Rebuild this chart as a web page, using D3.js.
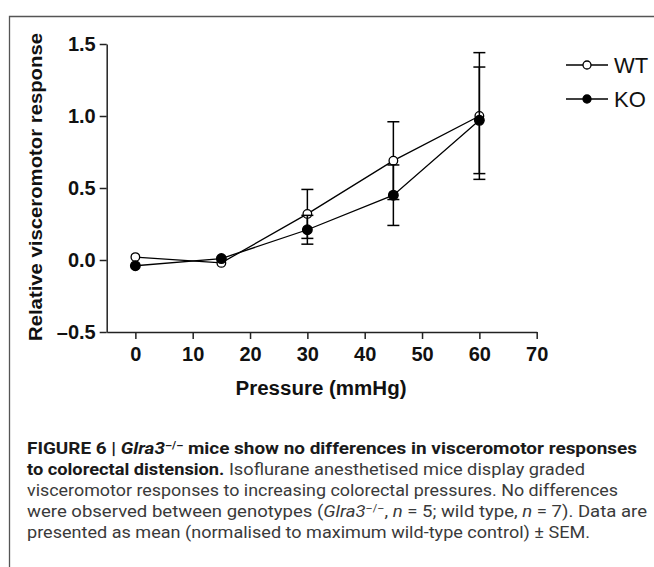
<!DOCTYPE html>
<html>
<head>
<meta charset="utf-8">
<script src="https://cdn.jsdelivr.net/npm/d3@7"></script>
<style>
  body { margin: 0; background: #fff; }
  svg { display: block; }
</style>
</head>
<body>
<div id="chart"></div>
<script>
// Data
const pressures = [0, 15, 30, 45, 60];
const wtMean = [0.02, -0.02, 0.32, 0.69, 1.00];
const wtSem = [0, 0, 0.17, 0.27, 0.44];
const koMean = [-0.04, 0.01, 0.21, 0.45, 0.97];
const koSem = [0, 0, 0.10, 0.21, 0.37];
const xTicks = [0, 10, 20, 30, 40, 50, 60, 70];
const yTicks = [-0.5, 0, 0.5, 1.0, 1.5];

const series = [
    {name: 'WT', mean: wtMean, sem: wtSem, fill: '#fff'},
    {name: 'KO', mean: koMean, sem: koSem, fill: '#000'}
];

const W = 654, H = 567;
const svg = d3.select('#chart').append('svg')
    .attr('width', W)
    .attr('height', H)
    .style('font-family', '"Liberation Sans", Arial, sans-serif');

// Frame
svg.append('path')
    .attr('d', 'M9.5,567 V16.5 H654')
    .attr('fill', 'none')
    .attr('stroke', '#555')
    .attr('stroke-width', 1.3);

// Scales
const x = d3.scaleLinear().domain([-5, 70]).range([106.7, 536.7]);
const y = d3.scaleLinear().domain([-0.5, 1.5]).range([332, 44]);

// Axes
const xAxis = svg.append('g')
    .attr('transform', `translate(0,${y(-0.5)})`)
    .call(d3.axisBottom(x).tickValues(xTicks).tickSize(7).tickSizeOuter(0).tickPadding(8));

const yAxis = svg.append('g')
    .attr('transform', `translate(${x(-5)},0)`)
    .call(d3.axisLeft(y).tickValues(yTicks).tickSize(7).tickSizeOuter(0).tickPadding(4)
        .tickFormat(d => d < 0 ? '\u2013' + d3.format('.1f')(-d) : d3.format('.1f')(d)));

[xAxis, yAxis].forEach(g => {
    g.select('.domain').attr('stroke', '#222').attr('stroke-width', 1.5);
    g.selectAll('.tick line').attr('stroke', '#222').attr('stroke-width', 1.5);
    g.selectAll('.tick text')
        .attr('fill', '#111')
        .style('font-size', '20px')
        .style('font-weight', 'bold')
        .style('font-family', '"Liberation Sans", Arial, sans-serif');
});

// Axis titles
svg.append('text')
    .attr('x', 321)
    .attr('y', 395)
    .attr('text-anchor', 'middle')
    .attr('fill', '#111')
    .attr('textLength', 171)
    .attr('lengthAdjust', 'spacingAndGlyphs')
    .style('font-size', '20px')
    .style('font-weight', 'bold')
    .text('Pressure (mmHg)');

svg.append('text')
    .attr('transform', 'translate(42,187) rotate(-90)')
    .attr('text-anchor', 'middle')
    .attr('fill', '#111')
    .attr('textLength', 308)
    .attr('lengthAdjust', 'spacingAndGlyphs')
    .style('font-size', '19px')
    .style('font-weight', 'bold')
    .text('Relative visceromotor response');

// Lines, error bars, markers
const line = d3.line()
    .x((d, i) => x(pressures[i]))
    .y(d => y(d));

series.forEach(s => {
    const g = svg.append('g');
    g.append('path')
        .datum(s.mean)
        .attr('d', line)
        .attr('fill', 'none')
        .attr('stroke', '#000')
        .attr('stroke-width', 1.3);

    const eb = g.selectAll('.eb')
        .data(s.mean.map((m, i) => ({p: pressures[i], m: m, e: s.sem[i]})).filter(d => d.e > 0))
        .enter().append('g');
    eb.append('line')
        .attr('x1', d => x(d.p)).attr('x2', d => x(d.p))
        .attr('y1', d => y(d.m - d.e)).attr('y2', d => y(d.m + d.e))
        .attr('stroke', '#000').attr('stroke-width', 1.5);
    [-1, 1].forEach(sign => {
        eb.append('line')
            .attr('x1', d => x(d.p) - 6).attr('x2', d => x(d.p) + 6)
            .attr('y1', d => y(d.m + sign * d.e)).attr('y2', d => y(d.m + sign * d.e))
            .attr('stroke', '#000').attr('stroke-width', 1.5);
    });

    g.selectAll('circle')
        .data(s.mean)
        .enter().append('circle')
        .attr('cx', (d, i) => x(pressures[i]))
        .attr('cy', d => y(d))
        .attr('r', s.name === 'WT' ? 4.3 : 4.8)
        .attr('fill', s.fill)
        .attr('stroke', '#000')
        .attr('stroke-width', 1.3);
});

// Legend
series.forEach((s, i) => {
    const ly = 65 + i * 34;
    svg.append('line')
        .attr('x1', 566).attr('x2', 608)
        .attr('y1', ly).attr('y2', ly)
        .attr('stroke', '#000').attr('stroke-width', 1.3);
    svg.append('circle')
        .attr('cx', 587).attr('cy', ly).attr('r', 4)
        .attr('fill', s.fill).attr('stroke', '#000').attr('stroke-width', 1.3);
    svg.append('text')
        .attr('x', 614).attr('y', ly + 8)
        .attr('fill', '#111')
        .style('font-size', '22px')
        .text(s.name);
});

// Caption
const cap = svg.append('g')
    .style('font-family', 'Roboto, "Liberation Sans", sans-serif')
    .style('font-size', '17px');

const captionLines = [
    {y: 454, w: 610, parts: [
        {t: 'FIGURE 6 | ', b: true},
        {t: 'Glra3', b: true, i: true},
        {t: '\u2013/\u2013', b: true, sup: true},
        {t: ' mice show no differences in visceromotor responses', b: true}
    ]},
    {y: 475, w: 558, parts: [
        {t: 'to colorectal distension.', b: true},
        {t: ' Isoflurane anesthetised mice display graded'}
    ]},
    {y: 496, w: 591, parts: [
        {t: 'visceromotor responses to increasing colorectal pressures. No differences'}
    ]},
    {y: 517, w: 620, parts: [
        {t: 'were observed between genotypes ('},
        {t: 'Glra3', i: true},
        {t: '\u2013/\u2013', sup: true},
        {t: ', '},
        {t: 'n', i: true},
        {t: ' = 5; wild type, '},
        {t: 'n', i: true},
        {t: ' = 7). Data are'}
    ]},
    {y: 538, w: 563, parts: [
        {t: 'presented as mean (normalised to maximum wild-type control) \u00b1 SEM.'}
    ]}
];

captionLines.forEach(l => {
    const t = cap.append('text')
        .attr('x', 27)
        .attr('y', l.y)
        .attr('textLength', l.w)
        .attr('lengthAdjust', 'spacingAndGlyphs')
        .attr('fill', '#3a3a3a');
    l.parts.forEach((p, idx) => {
        const ts = t.append('tspan').text(p.t);
        if (p.b) ts.style('font-weight', 'bold').attr('fill', '#1a1a1a');
        if (p.i) ts.style('font-style', 'italic');
        if (p.sup) ts.attr('dy', -5).style('font-size', '10px');
        else if (idx > 0 && l.parts[idx - 1].sup) ts.attr('dy', 5);
    });
});
</script>
</body>
</html>
